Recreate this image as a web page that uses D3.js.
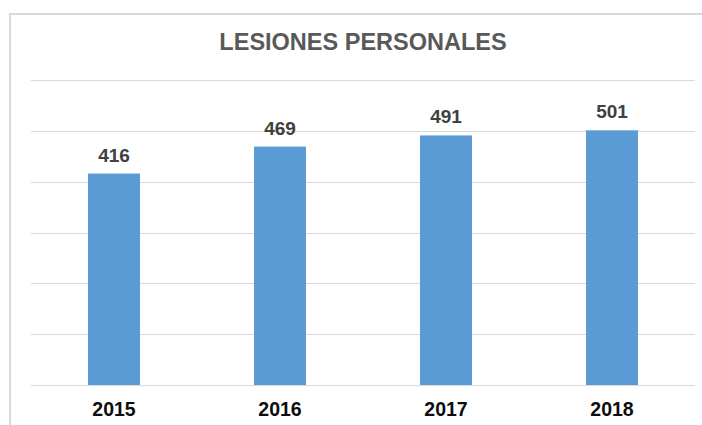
<!DOCTYPE html>
<meta charset="utf-8">
<style>
body{ margin:0; background:#fff; }
text{ font-family: "Liberation Sans", Arial, sans-serif; font-weight: bold; }
</style>
<svg width="702" height="425"></svg>
<script src="https://d3js.org/d3.v7.min.js"></script>
<script>
// data
var years = ["2015", "2016", "2017", "2018"];
var lesiones = [416, 469, 491, 501];
var yTicks = [0, 100, 200, 300, 400, 500, 600];
var title = "LESIONES PERSONALES";

var svg = d3.select("svg"),
    margin = {top: 80, right: 7, bottom: 40, left: 31},
    width = 695 - margin.left,
    height = 385 - margin.top;

// chart frame (cropped on right and bottom)
svg.append("path")
    .attr("d", "M10,425V14H702")
    .attr("fill", "none")
    .attr("stroke", "#d9d9d9")
    .attr("stroke-width", 2);

svg.append("text")
    .attr("x", 363)
    .attr("y", 50)
    .attr("text-anchor", "middle")
    .attr("font-size", 23.5)
    .attr("fill", "#595959")
    .text(title);

var x = d3.scaleBand().domain(years).range([0, width]).paddingInner(0.687).paddingOuter(0.3435),
    y = d3.scaleLinear().domain([0, 600]).range([height, 0]);

var g = svg.append("g")
    .attr("transform", "translate(" + margin.left + "," + margin.top + ")");

// gridlines
g.selectAll(".grid")
    .data(yTicks)
    .enter().append("line")
        .attr("class", "grid")
        .attr("x1", 0)
        .attr("x2", width)
        .attr("y1", function(d){ return Math.round(y(d)) + 0.5; })
        .attr("y2", function(d){ return Math.round(y(d)) + 0.5; })
        .attr("stroke", "#d9d9d9")
        .attr("stroke-width", 1.2);

// bars
g.selectAll(".bar")
    .data(lesiones)
    .enter().append("rect")
        .attr("class", "bar")
        .attr("x", function(d, i){ return x(years[i]); })
        .attr("y", function(d){ return y(d); })
        .attr("width", x.bandwidth())
        .attr("height", function(d){ return height - y(d); })
        .attr("fill", "#5b9bd5");

// value labels
g.selectAll(".val")
    .data(lesiones)
    .enter().append("text")
        .attr("class", "val")
        .attr("x", function(d, i){ return x(years[i]) + x.bandwidth() / 2; })
        .attr("y", function(d){ return y(d) - 12; })
        .attr("text-anchor", "middle")
        .attr("font-size", 19)
        .attr("fill", "#404040")
        .text(function(d){ return d; });

// x axis labels
var xAxis = g.append("g")
    .attr("transform", "translate(0," + height + ")")
    .call(d3.axisBottom(x).tickSize(0).tickPadding(17.5));
xAxis.select(".domain").remove();
xAxis.selectAll("text")
    .attr("font-size", 19.5)
    .attr("font-family", "Liberation Sans, Arial, sans-serif")
    .attr("font-weight", "bold")
    .attr("fill", "#0d0d0d")
    .attr("dy", "0.71em");
</script>
